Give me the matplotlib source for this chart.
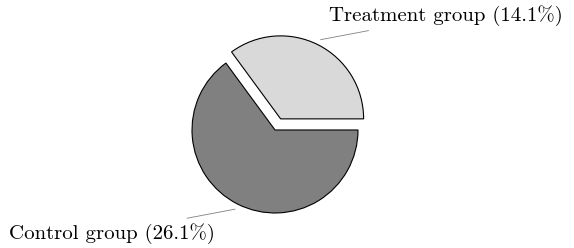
import matplotlib
matplotlib.use("Agg")
import matplotlib.pyplot as plt
import numpy as np

plt.rcParams['font.family'] = 'cmr10'
plt.rcParams['mathtext.fontset'] = 'cm'
plt.rcParams['axes.unicode_minus'] = False

labels = ['Treatment group', 'Control group']
values = [14.1, 26.1]
colors = ['#d9d9d9', '#808080']
explode = [0.15, 0.0]

fig = plt.figure(figsize=(5.74, 2.48), dpi=100)
ax = fig.add_axes([0, 0, 1, 1])

wedges, _ = ax.pie(values, colors=colors, explode=explode, startangle=0,
                   counterclock=True, radius=1.0,
                   wedgeprops=dict(edgecolor='black', linewidth=0.8))

# leader lines + labels
text_offsets = [(-0.48, 0.18), (-2.145, -0.185)]
for w, lab, val, ex, (dx, dy) in zip(wedges, labels, values, explode, text_offsets):
    mid = np.deg2rad((w.theta1 + w.theta2) / 2)
    cx, cy = ex * np.cos(mid), ex * np.sin(mid)
    end = mid - np.deg2rad(18)
    x0, y0 = cx + 1.07 * np.cos(mid), cy + 1.07 * np.sin(mid)
    x1, y1 = cx + 1.5 * np.cos(end), cy + 1.5 * np.sin(end)
    ax.plot([x0, x1], [y0, y1], color='#808080', linewidth=0.6)
    ax.text(x1 + dx, y1 + dy, f'{lab} ({val}%)', fontsize=15,
            ha='left', va='center')

ax.set_aspect('equal')
ax.set_xlim(-3.313, 3.602)
ax.set_ylim(-1.422, 1.566)
ax.axis('off')

fig.savefig('out.png', dpi=100)
